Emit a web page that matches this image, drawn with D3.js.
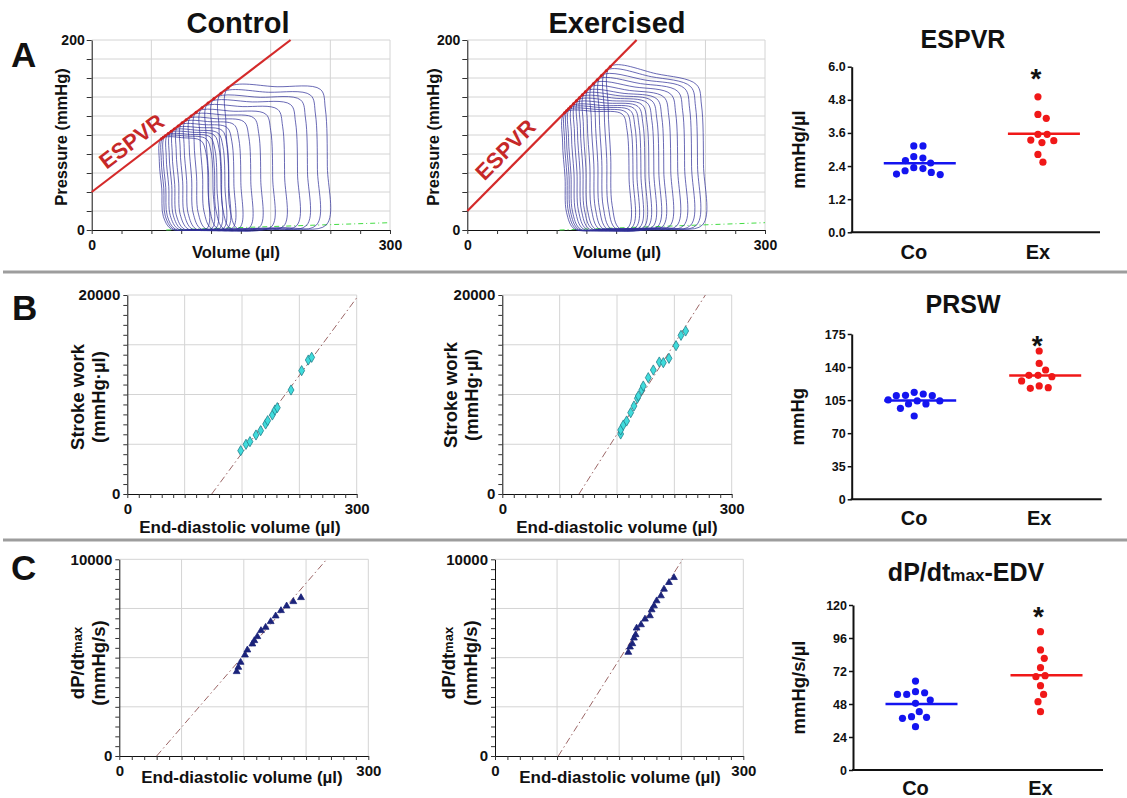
<!DOCTYPE html>
<html>
<head>
<meta charset="utf-8">
<script src="https://cdn.jsdelivr.net/npm/d3@7"></script>
<style>
body { margin: 0; background: #fff; }
</style>
</head>
<body>
<script>
var FONT = '"Liberation Sans", Arial, Helvetica, sans-serif';
var W = 1127, H = 798;

// ---- A: pressure-volume loops (end-systolic vol, end-diastolic vol, top-right pressure)
var ctrlLoopESV = [70, 72, 74, 77, 80, 83, 87, 91, 95, 100, 105, 111, 117, 123, 130, 137];
var ctrlLoopEDV = [116, 121, 125, 129, 133, 137, 142, 149, 159, 169, 181, 193, 206, 216, 226, 236];
var ctrlLoopPTR = [94, 96, 98, 100, 102, 105, 108, 111, 114, 118, 122, 127, 132, 137, 142, 148];
var exLoopESV = [98, 100, 102, 104, 107, 110, 113, 116, 119, 123, 127, 131, 135, 140, 144];
var exLoopEDV = [162, 166, 170, 174, 178, 182, 187, 192, 197, 204, 211, 218, 225, 231, 237];
var exLoopPTR = [122, 124, 126, 128, 130, 132, 134, 136, 138, 140, 143, 146, 149, 151, 153];
var ctrlESPVR = [40, 0.8];      // intercept (mmHg), slope (mmHg/ul)
var exESPVR = [20, 1.055];
var ctrlEDPVR = [[75, 0], [300, 7.7]];
var exEDPVR = [[93, 0], [300, 7.7]];

// ---- B: stroke work vs EDV
var ctrlSwEDV = [148.3, 155.2, 160.4, 168.3, 174.4, 180.9, 183.6, 189.7, 193.1, 196.2, 214.1, 228.0, 236.7, 241.1];
var ctrlSW = [4355, 4991, 5260, 5930, 6365, 7035, 7370, 7940, 8442, 8677, 10452, 12395, 13467, 13735];
var exSwEDV = [154.8, 154.8, 158.3, 162.6, 167.9, 172.2, 176.6, 177.9, 182.3, 184.4, 190.9, 197.5, 205.3, 210.6, 218.0, 227.2, 233.7, 239.8];
var exSW = [6030, 6432, 6935, 7337, 8174, 8844, 9615, 9849, 10452, 10854, 11692, 12462, 13266, 13199, 13635, 14908, 15946, 16382];
var ctrlSwFit = [110.4, 104];   // x-intercept, slope
var exSwFit = [100.3, 121];

// ---- C: dP/dtmax vs EDV
var ctrlDpEDV = [141.4, 143.4, 146.2, 151.4, 154.3, 160.3, 162.7, 166.3, 170.7, 176.3, 182.4, 188.4, 194.8, 201.6, 209.7, 218.9];
var ctrlDp = [4288, 4508, 4763, 5136, 5390, 5695, 5864, 6068, 6373, 6542, 6831, 7119, 7390, 7627, 7847, 8051];
var exDpEDV = [161.1, 163.1, 165.9, 167.9, 169.9, 171.1, 176.4, 181.2, 187.2, 189.3, 192.1, 195.3, 200.5, 204.2, 210.2, 216.2];
var exDp = [5270, 5541, 5709, 5997, 6166, 6503, 6672, 6959, 7128, 7432, 7635, 7889, 8142, 8480, 8818, 9071];
var ctrlDpFit = [45, 48.8];
var exDpFit = [76.5, 66.6];

// ---- dot plots
var groups = ["Co", "Ex"];
var espvrCo = [3.13, 3.13, 2.74, 2.69, 2.60, 2.51, 2.31, 2.34, 2.17, 2.09, 2.11, 2.23];
var espvrEx = [4.91, 4.13, 4.27, 3.55, 3.55, 3.32, 3.25, 3.34, 2.82, 2.54];
var prswCo = [109.7, 113.3, 110.1, 111.5, 109.7, 104.1, 105.2, 104.1, 100.9, 101.0, 96.3, 88.2];
var prswEx = [157, 143.9, 136.9, 131.3, 129.8, 131.3, 125.3, 120, 117.5, 118.2];
var dpdtCo = [64.7, 55, 57, 56.2, 55, 50.9, 48.5, 42.4, 38.3, 38.8, 37.6, 31.5];
var dpdtEx = [100.6, 87.3, 81.2, 74.4, 67.9, 68.6, 61.3, 55, 49.7, 42.4];
var espvrTicks = [0, 1.2, 2.4, 3.6, 4.8, 6.0];
var prswTicks = [0, 35, 70, 105, 140, 175];
var dpdtTicks = [0, 24, 48, 72, 96, 120];

var svg = d3.select("body").append("svg")
	.attr("width", W)
	.attr("height", H)
	.style("font-family", FONT)
	.style("font-weight", "bold");

svg.append("rect").attr("width", W).attr("height", H).attr("fill", "#fff");

[272, 540].forEach(function(yy) {
	svg.append("line")
		.attr("x1", 3).attr("x2", W)
		.attr("y1", yy).attr("y2", yy)
		.attr("stroke", "#9d9d9d")
		.attr("stroke-width", 3);
});

function label(x, y, s, size, anchor, rot) {
	var t = svg.append("text")
		.attr("x", x).attr("y", y)
		.attr("font-size", size)
		.attr("text-anchor", anchor || "middle")
		.attr("fill", "#111")
		.text(s);
	if (rot) {
		t.attr("transform", "rotate(" + rot + "," + x + "," + y + ")")
			.attr("dominant-baseline", "central");
	}
	return t;
}

function styleAxis(g, size) {
	g.attr("font-family", FONT).attr("font-size", size).attr("font-weight", "bold");
	g.selectAll("text").attr("fill", "#111");
	g.selectAll("line").attr("stroke", "#333");
	g.select(".domain").attr("stroke", "#111");
}

// panel letters and column titles
label(11, 67, "A", 35, "start");
label(12, 320, "B", 35, "start");
label(11, 580, "C", 35, "start");
label(238, 33, "Control", 29);
label(617, 33, "Exercised", 29);

function pvPanel(o) {
	var x = d3.scaleLinear().domain([0, 300]).range([o.left, o.right]);
	var y = d3.scaleLinear().domain([0, 200]).range([o.bottom, o.top]);
	var g = svg.append("g");

	g.selectAll(".gx").data(d3.range(60, 301, 60)).enter().append("line")
		.attr("x1", function(d) { return x(d); })
		.attr("x2", function(d) { return x(d); })
		.attr("y1", y(0)).attr("y2", y(200))
		.attr("stroke", "#d4d4d4");
	g.selectAll(".gy").data(d3.range(20, 201, 20)).enter().append("line")
		.attr("x1", x(0)).attr("x2", x(300))
		.attr("y1", function(d) { return y(d); })
		.attr("y2", function(d) { return y(d); })
		.attr("stroke", "#d4d4d4");

	var yAxis = d3.axisLeft(y).tickValues(d3.range(0, 201, 20))
		.tickSize(5).tickSizeOuter(0).tickPadding(2)
		.tickFormat(function(d) { return (d === 0 || d === 200) ? d : ""; });
	styleAxis(g.append("g").attr("transform", "translate(" + x(0) + ",0)").call(yAxis), 14);

	var xAxis = d3.axisBottom(x).tickValues(d3.range(0, 301, 30))
		.tickSize(4).tickSizeOuter(0).tickPadding(6)
		.tickFormat(function(d) { return (d === 0 || d === 300) ? d : ""; });
	styleAxis(g.append("g").attr("transform", "translate(0," + y(0) + ")").call(xAxis), 14);

	// EDPVR
	g.append("line")
		.attr("x1", x(o.edpvr[0][0])).attr("y1", y(o.edpvr[0][1]))
		.attr("x2", x(o.edpvr[1][0])).attr("y2", y(o.edpvr[1][1]))
		.attr("stroke", "#44dd44").attr("stroke-width", 1)
		.attr("stroke-dasharray", "5,3,1,3");

	function edp(v) {
		var a = o.edpvr[0], b = o.edpvr[1];
		return Math.max(0.5, a[1] + (v - a[0]) * (b[1] - a[1]) / (b[0] - a[0]));
	}

	var line = d3.line()
		.x(function(d) { return x(d[0]); })
		.y(function(d) { return y(d[1]); })
		.curve(d3.curveCatmullRomClosed.alpha(0.5));

	o.esv.forEach(function(esv, i) {
		var edv = o.edv[i], ptr = o.ptr[i];
		var pes = o.espvr[0] + o.espvr[1] * esv;
		var bm = (esv + 10 + edv) / 2;
		var pts = [
			[esv, pes],
			[esv - 2, pes * 0.75],
			[esv + 0.5, pes * 0.45],
			[esv + 2, pes * 0.15],
			[esv + 10, 1],
			[bm, edp(bm) * 0.6],
			[edv, edp(edv)],
			[edv + 1, ptr * 0.45],
			[edv - 1, ptr * 0.86],
			[edv - 6, ptr],
			[(esv + edv) / 2, (pes + ptr) / 2 + 2]
		];
		g.append("path")
			.attr("d", line(pts))
			.attr("fill", "none")
			.attr("stroke", "#2f2f98")
			.attr("stroke-opacity", 0.8)
			.attr("stroke-width", 0.9);
	});

	// ESPVR
	var vTop = (200 - o.espvr[0]) / o.espvr[1];
	g.append("line")
		.attr("x1", x(0)).attr("y1", y(o.espvr[0]))
		.attr("x2", x(vTop)).attr("y2", y(200))
		.attr("stroke", "#d42a2a").attr("stroke-width", 2.2);

	g.selectAll(".es").data(o.esv).enter().append("circle")
		.attr("cx", function(d) { return x(d); })
		.attr("cy", function(d) { return y(o.espvr[0] + o.espvr[1] * d); })
		.attr("r", 1.5)
		.attr("fill", "#cc2020");

	var ang = Math.atan2(y(o.espvr[0]) - y(200), x(vTop) - x(0));
	var lx = x(50) - 16 * Math.sin(ang), ly = y(o.espvr[0] + o.espvr[1] * 50) - 16 * Math.cos(ang);
	g.append("text")
		.attr("x", lx).attr("y", ly)
		.attr("transform", "rotate(" + (-ang * 180 / Math.PI) + "," + lx + "," + ly + ")")
		.attr("text-anchor", "middle")
		.attr("dominant-baseline", "central")
		.attr("font-size", 22)
		.attr("fill", "#c62828")
		.text("ESPVR");

	label(o.ytx, (o.top + o.bottom) / 2 + 2, "Pressure (mmHg)", 16.5, "middle", -90);
	label(o.xtx, 258, "Volume (\u00b5l)", 16.5);
}

pvPanel({ left: 91.7, right: 390, top: 40, bottom: 230, esv: ctrlLoopESV, edv: ctrlLoopEDV, ptr: ctrlLoopPTR,
	espvr: ctrlESPVR, edpvr: ctrlEDPVR, ytx: 61, xtx: 236 });
pvPanel({ left: 467.3, right: 765, top: 40, bottom: 230, esv: exLoopESV, edv: exLoopEDV, ptr: exLoopPTR,
	espvr: exESPVR, edpvr: exEDPVR, ytx: 433, xtx: 617 });

function xyPanel(o) {
	var x = d3.scaleLinear().domain([0, 300]).range([o.left, o.right]);
	var y = d3.scaleLinear().domain([0, o.ymax]).range([o.bottom, o.top]);
	var g = svg.append("g");

	g.selectAll(".gx").data([75, 150, 225, 300]).enter().append("line")
		.attr("x1", function(d) { return x(d); })
		.attr("x2", function(d) { return x(d); })
		.attr("y1", y(0)).attr("y2", y(o.ymax))
		.attr("stroke", "#d4d4d4");
	g.selectAll(".gy").data([1, 2, 3, 4].map(function(k) { return k * o.ymax / 4; })).enter().append("line")
		.attr("x1", x(0)).attr("x2", x(300))
		.attr("y1", function(d) { return y(d); })
		.attr("y2", function(d) { return y(d); })
		.attr("stroke", "#d4d4d4");

	var yAxis = d3.axisLeft(y).tickValues(d3.range(0, o.ymax + 1, o.ymax / 20))
		.tickSize(4).tickSizeOuter(0).tickPadding(3)
		.tickFormat(function(d) { return (d === 0 || d === o.ymax) ? d : ""; });
	styleAxis(g.append("g").attr("transform", "translate(" + x(0) + ",0)").call(yAxis), 15);

	var xAxis = d3.axisBottom(x).tickValues(d3.range(0, 301, 15))
		.tickSize(4).tickSizeOuter(0).tickPadding(5)
		.tickFormat(function(d) { return (d === 0 || d === 300) ? d : ""; });
	styleAxis(g.append("g").attr("transform", "translate(0," + y(0) + ")").call(xAxis), 15);

	var v0 = o.fit[0], k = o.fit[1];
	var v1 = Math.min(300, v0 + o.ymax / k);
	g.append("line")
		.attr("x1", x(v0)).attr("y1", y(0))
		.attr("x2", x(v1)).attr("y2", y(k * (v1 - v0)))
		.attr("stroke", "#9c6666").attr("stroke-width", 1)
		.attr("stroke-dasharray", "7,3,1.5,3");

	var sym = d3.symbol().type(o.symbol).size(o.size);
	g.selectAll(".pt").data(o.xs).enter().append("path")
		.attr("d", sym)
		.attr("transform", function(d, i) { return "translate(" + x(d) + "," + y(o.ys[i]) + ")"; })
		.attr("fill", o.fill)
		.attr("stroke", o.stroke)
		.attr("stroke-width", 0.8);

	o.yTitle.forEach(function(s, i) {
		var t = label(o.ytx[i], o.yty, "", 18.5, "middle", -90);
		if (s === "dP/dtmax") {
			t.append("tspan").text("dP/dt");
			t.append("tspan").attr("font-size", 13).text("max");
		} else {
			t.text(s);
		}
	});
	label(o.xtx, o.xty, "End-diastolic volume (\u00b5l)", 17);
}

xyPanel({ left: 127.3, right: 356.7, top: 295, bottom: 494, ymax: 20000, xs: ctrlSwEDV, ys: ctrlSW, fit: ctrlSwFit,
	symbol: d3.symbolDiamond, size: 30, fill: "#3fdcdc", stroke: "#24808c",
	yTitle: ["Stroke work", "(mmHg\u00b7\u00b5l)"], ytx: [77, 98], yty: 397, xtx: 240, xty: 533 });
xyPanel({ left: 502.3, right: 731.7, top: 295, bottom: 494, ymax: 20000, xs: exSwEDV, ys: exSW, fit: exSwFit,
	symbol: d3.symbolDiamond, size: 30, fill: "#3fdcdc", stroke: "#24808c",
	yTitle: ["Stroke work", "(mmHg\u00b7\u00b5l)"], ytx: [450, 471], yty: 395, xtx: 617, xty: 533 });
xyPanel({ left: 119.3, right: 368.3, top: 559.3, bottom: 756, ymax: 10000, xs: ctrlDpEDV, ys: ctrlDp, fit: ctrlDpFit,
	symbol: d3.symbolTriangle, size: 20, fill: "#1b237a", stroke: "#1b237a",
	yTitle: ["dP/dtmax", "(mmHg/s)"], ytx: [77, 98], yty: 663, xtx: 242, xty: 783 });
xyPanel({ left: 495, right: 743.3, top: 559.3, bottom: 756, ymax: 10000, xs: exDpEDV, ys: exDp, fit: exDpFit,
	symbol: d3.symbolTriangle, size: 20, fill: "#1b237a", stroke: "#1b237a",
	yTitle: ["dP/dtmax", "(mmHg/s)"], ytx: [448, 470], yty: 663, xtx: 620, xty: 783 });

// simple beeswarm: closest free horizontal offset to the group centre
function swarm(values, y, r) {
	var D = 2 * r + 2;
	var placed = [];
	var out = new Array(values.length);
	var order = values.map(function(d, i) { return i; })
		.sort(function(a, b) { return values[b] - values[a]; });
	order.forEach(function(i) {
		var yi = y(values[i]);
		var cands = [0];
		placed.forEach(function(p) {
			var dy = Math.abs(p.y - yi);
			if (dy < D) {
				var dx = Math.sqrt(D * D - dy * dy);
				cands.push(p.x + dx, p.x - dx);
			}
		});
		cands.sort(function(a, b) { return Math.abs(a) - Math.abs(b); });
		var best = 0;
		for (var c = 0; c < cands.length; c++) {
			var ok = placed.every(function(p) {
				return Math.hypot(p.x - cands[c], p.y - yi) >= D - 1e-6;
			});
			if (ok) { best = cands[c]; break; }
		}
		placed.push({ x: best, y: yi });
		out[i] = best;
	});
	return out;
}

function dotPanel(o) {
	var y = d3.scaleLinear().domain([0, o.ticks[o.ticks.length - 1]]).range([o.bottom, o.top]);
	var x = d3.scalePoint().domain(groups).range([o.left, o.right]).padding(0.5);
	var g = svg.append("g");

	var yAxis = d3.axisLeft(y).tickValues(o.ticks)
		.tickSize(4).tickSizeOuter(0).tickPadding(2)
		.tickFormat(o.fmt);
	var ya = g.append("g").attr("transform", "translate(" + o.left + ",0)").call(yAxis);
	styleAxis(ya, 12.5);
	ya.selectAll("line").attr("stroke", "#111").attr("stroke-width", 1.5);
	ya.select(".domain").attr("stroke-width", 2);

	g.append("line")
		.attr("x1", o.left - 1).attr("x2", o.right)
		.attr("y1", o.bottom).attr("y2", o.bottom)
		.attr("stroke", "#111").attr("stroke-width", 2);

	var colors = { Co: "#1414f0", Ex: "#f01818" };
	[o.co, o.ex].forEach(function(vals, gi) {
		var name = groups[gi];
		var cx = x(name);
		var offs = swarm(vals, y, 3.6);
		g.selectAll(".d" + name).data(vals).enter().append("circle")
			.attr("cx", function(d, i) { return cx + offs[i]; })
			.attr("cy", function(d) { return y(d); })
			.attr("r", 3.6)
			.attr("fill", colors[name]);
		var m = d3.mean(vals);
		g.append("line")
			.attr("x1", cx - 30).attr("x2", cx + 42)
			.attr("y1", y(m)).attr("y2", y(m))
			.attr("stroke", colors[name]).attr("stroke-width", 2.5);
		label(cx, o.catY, name, 20);
	});

	label(x("Ex") - 2, o.top + 21, "*", 28);
	label(o.titleX, o.titleY, "", 25).call(function(t) {
		if (o.title === "dP/dtmax-EDV") {
			t.append("tspan").text("dP/dt");
			t.append("tspan").attr("font-size", 17).text("max");
			t.append("tspan").text("-EDV");
		} else {
			t.text(o.title);
		}
	});
	label(798, (o.top + o.bottom) / 2, o.yTitle, 18.5, "middle", -90);
}

dotPanel({ left: 851.7, right: 1100, top: 66.7, bottom: 232.3, ticks: espvrTicks, fmt: d3.format(".1f"),
	co: espvrCo, ex: espvrEx, title: "ESPVR", titleX: 963, titleY: 48, yTitle: "mmHg/\u00b5l", catY: 259 });
dotPanel({ left: 851.7, right: 1101.7, top: 334, bottom: 499.3, ticks: prswTicks, fmt: d3.format("d"),
	co: prswCo, ex: prswEx, title: "PRSW", titleX: 963, titleY: 313, yTitle: "mmHg", catY: 525 });
dotPanel({ left: 853, right: 1103, top: 605, bottom: 770, ticks: dpdtTicks, fmt: d3.format("d"),
	co: dpdtCo, ex: dpdtEx, title: "dP/dtmax-EDV", titleX: 966, titleY: 581, yTitle: "mmHg/s/\u00b5l", catY: 795 });
</script>
</body>
</html>
